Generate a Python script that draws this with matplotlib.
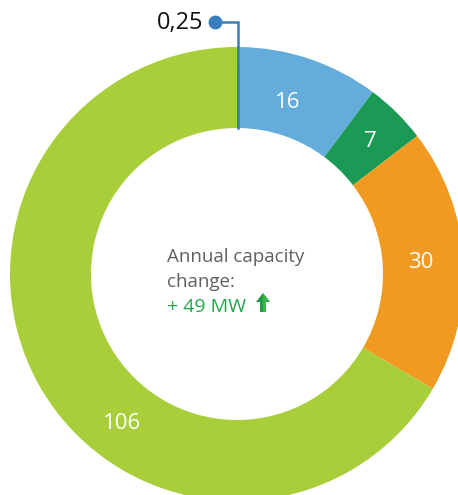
import matplotlib
matplotlib.use("Agg")
import numpy as np
import matplotlib.pyplot as plt
from matplotlib.patches import Polygon

# Data
labels = ["0,25", "16", "7", "30", "106"]
values = [0.25, 16, 7, 30, 106]
colors = ["#3a7ebf", "#63acdb", "#1b9a56", "#f09a22", "#a8ce3a"]
center_lines = ["Annual capacity", "change:"]
center_value = "+ 49 MW"

plt.rcParams["font.family"] = ["Open Sans", "DejaVu Sans"]

W, H = 458, 495
fig = plt.figure(figsize=(W / 100, H / 100), dpi=100)
ax = fig.add_axes([0, 0, 1, 1])

# Donut geometry (pixel units, y measured from bottom)
cx, cy = 237, H - 274
r_out = 227
r_in = 146
width = r_out - r_in

ax.pie(values, colors=colors, startangle=90, counterclock=False,
       radius=r_out, center=(cx, cy),
       wedgeprops=dict(width=width, linewidth=0), frame=True)
ax.set_xlim(0, W)
ax.set_ylim(0, H)
ax.set_aspect("equal")
ax.axis("off")

# Tiny first segment drawn as a line so it stays visible
ax.plot([cx + 0.5, cx + 0.5], [cy + r_in, cy + r_out], color=colors[0], lw=1.8)

# Labels inside segments (skip the tiny first one); label angle nudges
angle_shift = {"16": 2.5, "7": 0, "30": 0.8, "106": None}
radius_lab = {"16": 181, "7": 190, "30": 184, "106": 187}
total = sum(values)
start = 90
for lab, v in zip(labels, values):
    mid = start - v / total * 360 / 2
    start -= v / total * 360
    if v < 1:
        continue
    if angle_shift[lab] is None:
        mid = 232
    else:
        mid += angle_shift[lab]
    ang = np.deg2rad(mid)
    r = radius_lab[lab]
    ax.text(cx + r * np.cos(ang), cy + r * np.sin(ang), lab,
            color="white", fontsize=16, ha="center", va="center_baseline")

# Leader for the tiny 0,25 segment
top_y = cy + r_out
lead_y = H - 22
dot_x = 215
ax.plot([cx + 0.5, cx + 0.5, dot_x], [top_y, lead_y, lead_y], color=colors[0], lw=1.8,
        solid_joinstyle="miter")
ax.plot([dot_x], [lead_y], "o", color=colors[0], ms=9)
ax.text(dot_x - 12, lead_y - 1, labels[0], ha="right", va="center",
        fontsize=17, color="#111111")

# Center text
for i, line in enumerate(center_lines):
    ax.text(167, H - 262 - 25 * i, line, ha="left", va="baseline",
            fontsize=13.5, color="#606060")
ax.text(167, H - 312, center_value, ha="left", va="baseline",
        fontsize=14, color="#1ea84c")

# Small up arrow next to value
ax_x, base = 263, H - 312
arrow = Polygon([(ax_x - 3, base), (ax_x + 3, base), (ax_x + 3, base + 10),
                 (ax_x + 7, base + 10), (ax_x, base + 19), (ax_x - 7, base + 10),
                 (ax_x - 3, base + 10)], closed=True, color="#1f9c45", lw=0)
ax.add_patch(arrow)
arrow_hi = Polygon([(ax_x, base), (ax_x + 3, base), (ax_x + 3, base + 10),
                    (ax_x + 7, base + 10), (ax_x, base + 19)],
                   closed=True, color="#3cb34a", lw=0)
ax.add_patch(arrow_hi)

fig.savefig("out.png", dpi=100)
